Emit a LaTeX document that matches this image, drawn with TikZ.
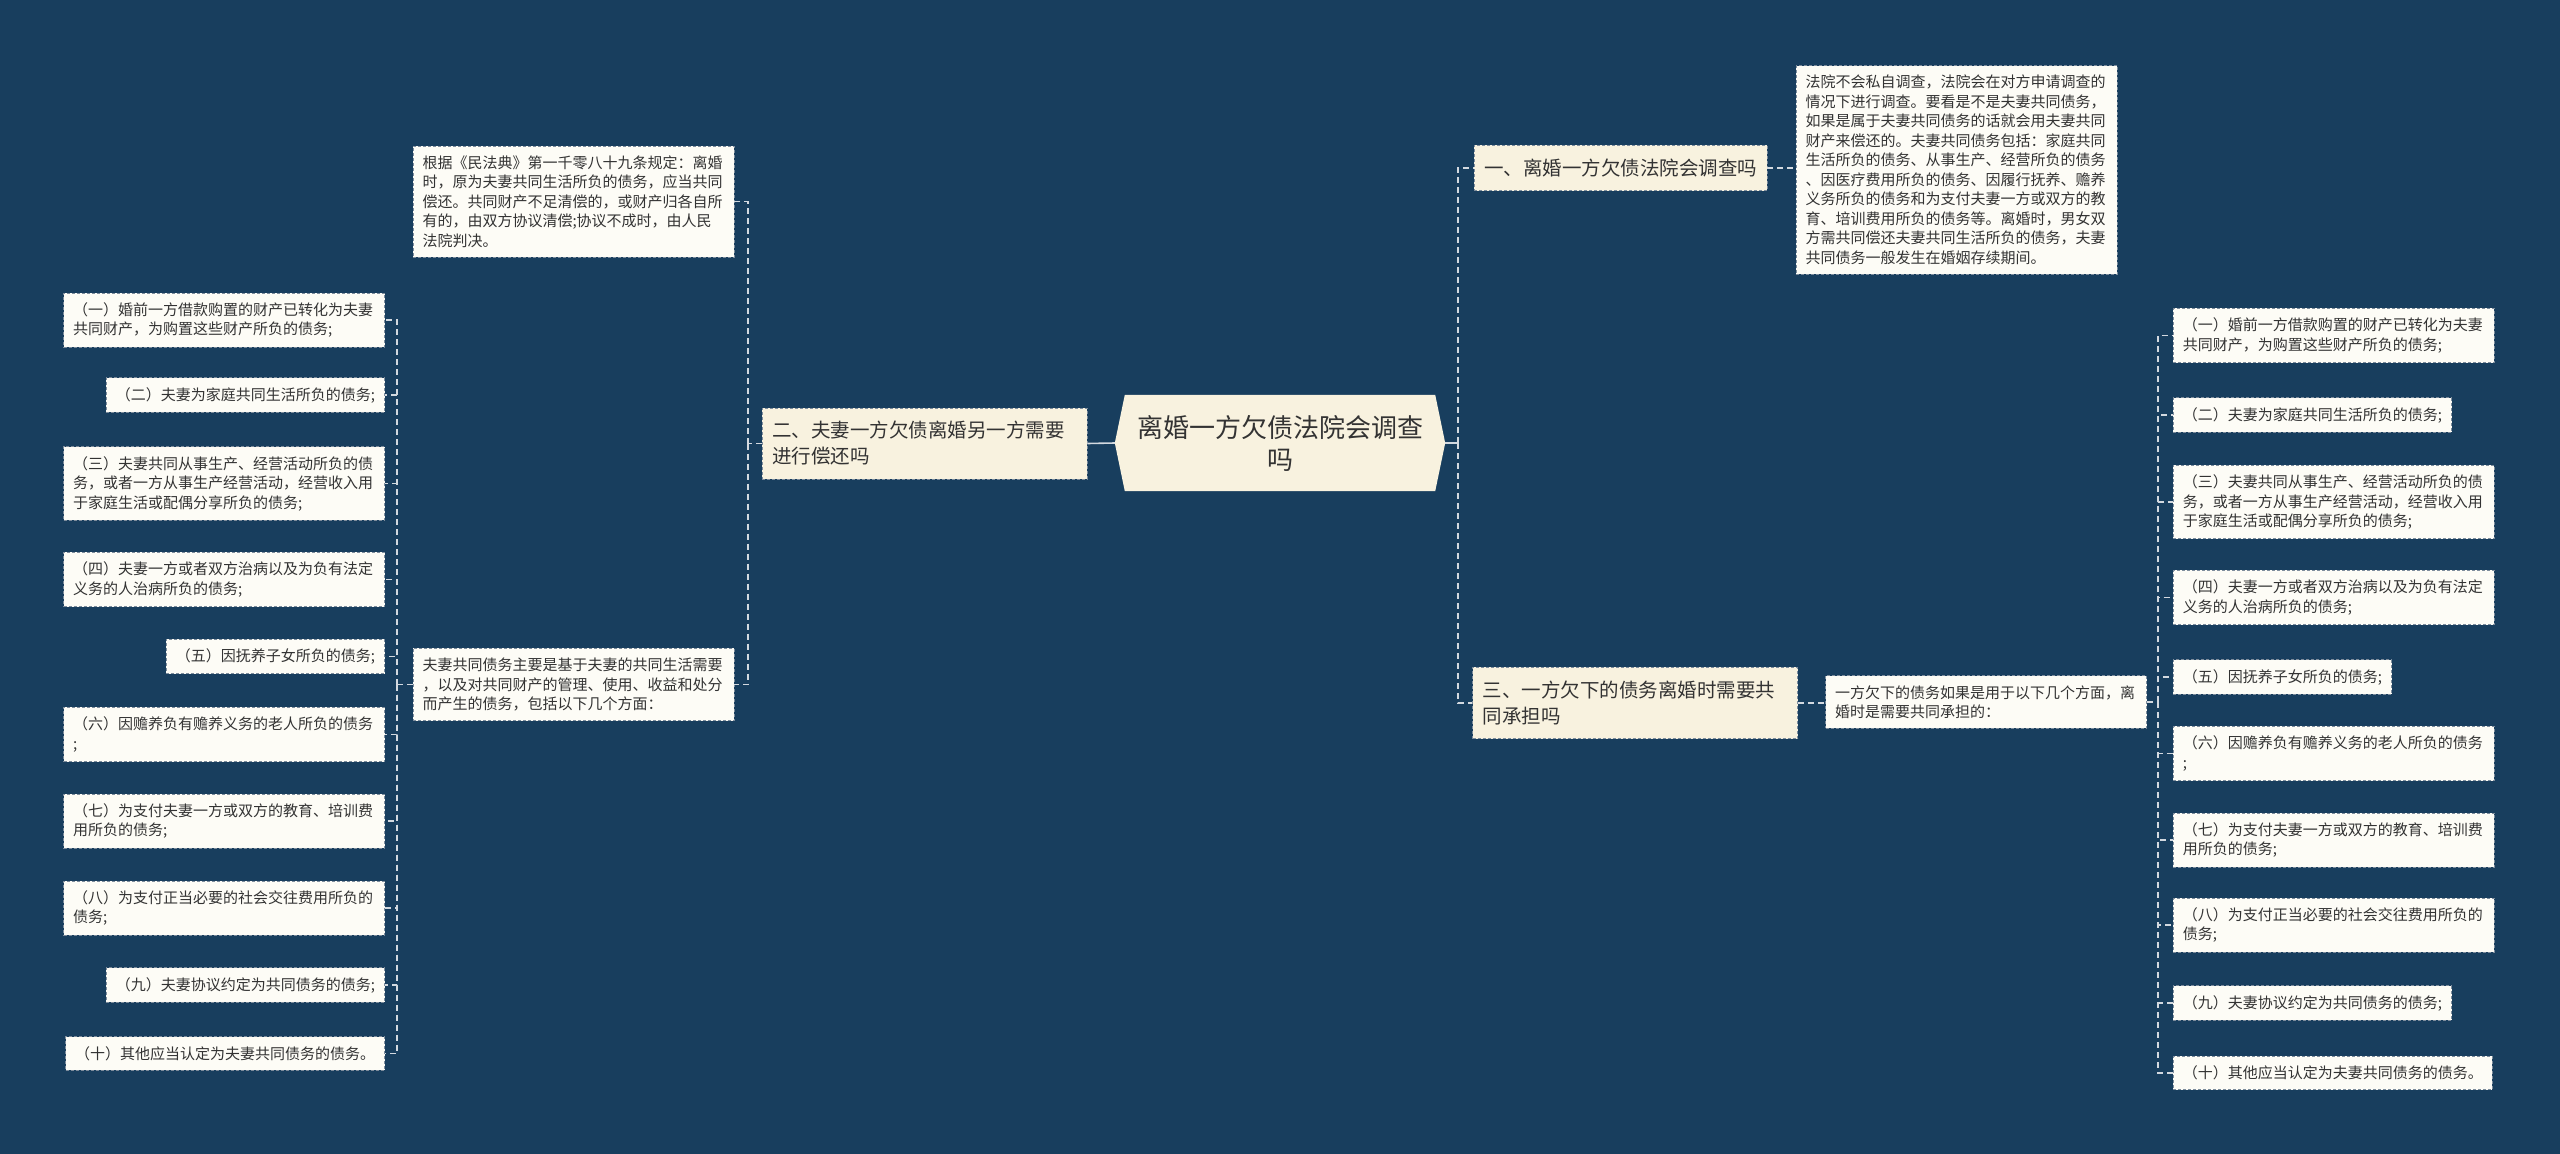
\documentclass[tikz,border=0pt]{standalone}
\usepackage{fontspec}
\setmainfont{Noto Sans CJK SC}
\definecolor{bgc}{HTML}{183E5E}
\definecolor{lvlc}{HTML}{F8F2DF}
\definecolor{leafc}{HTML}{FDFCF6}
\definecolor{bordc}{HTML}{7D8C9C}
\definecolor{txt}{HTML}{333333}
\definecolor{linec}{HTML}{D3D9E0}
\begin{document}
\begin{tikzpicture}[x=1pt,y=-1pt,
  leaf/.style={draw=bordc, dash pattern=on 3pt off 2pt, line width=0.8pt, fill=leafc, text=txt,
    font=\fontsize{15pt}{19.5pt}\selectfont, align=left, inner xsep=9.5pt, inner ysep=9.5pt},
  wide/.style={text width=302pt},
  lvl/.style={draw=bordc, dash pattern=on 3pt off 2pt, line width=0.8pt, fill=lvlc, text=txt,
    font=\fontsize{19.5pt}{26pt}\selectfont, align=left, inner xsep=10pt, inner ysep=13.5pt},
  conn/.style={draw=linec, line width=1.6pt, dash pattern=on 6pt off 4pt},
  mainconn/.style={draw=linec, line width=1.6pt},
]
\fill[bgc] (0,0) rectangle (2560,1154);
\useasboundingbox (0,0) rectangle (2560,1154);

% central node
\node[minimum width=330pt, minimum height=96pt, inner sep=0pt] (c) at (1280,443) {};
\fill[lvlc] ([xshift=10pt]c.north west) -- ([xshift=-10pt]c.north east) -- (c.east)
  -- ([xshift=-10pt]c.south east) -- ([xshift=10pt]c.south west) -- (c.west) -- cycle;
\node[text=txt, font=\fontsize{26pt}{32pt}\selectfont, align=center] (ct) at (c.center) {离婚一方欠债法院会调查\\吗};

% level 1
\node[lvl] (n1) at (1620.5,168) {一、离婚一方欠债法院会调查吗};
\node[lvl, text width=305pt] (n2) at (924.5,443.5) {二、夫妻一方欠债离婚另一方需要\\进行偿还吗};
\node[lvl, text width=305pt] (n3) at (1635,703) {三、一方欠下的债务离婚时需要共\\同承担吗};

% details
\node[leaf, wide] (d1) at (573.5,201.5) {根据《民法典》第一千零八十九条规定：离婚\\时，原为夫妻共同生活所负的债务，应当共同\\偿还。共同财产不足清偿的，或财产归各自所\\有的，由双方协议清偿;协议不成时，由人民\\法院判决。};
\node[leaf, wide] (d2) at (573.5,684.5) {夫妻共同债务主要是基于夫妻的共同生活需要\\，以及对共同财产的管理、使用、收益和处分\\而产生的债务，包括以下几个方面：};
\node[leaf, wide] (d3) at (1956.5,170) {法院不会私自调查，法院会在对方申请调查的\\情况下进行调查。要看是不是夫妻共同债务，\\如果是属于夫妻共同债务的话就会用夫妻共同\\财产来偿还的。夫妻共同债务包括：家庭共同\\生活所负的债务、从事生产、经营所负的债务\\、因医疗费用所负的债务、因履行抚养、赡养\\义务所负的债务和为支付夫妻一方或双方的教\\育、培训费用所负的债务等。离婚时，男女双\\方需共同偿还夫妻共同生活所负的债务，夫妻\\共同债务一般发生在婚姻存续期间。};
\node[leaf, wide] (d4) at (1986,702) {一方欠下的债务如果是用于以下几个方面，离\\婚时是需要共同承担的：};

% left items
\node[leaf, wide, anchor=east] (L1) at (385,320) {（一）婚前一方借款购置的财产已转化为夫妻\\共同财产，为购置这些财产所负的债务;};
\node[leaf, anchor=east] (L2) at (385,395) {（二）夫妻为家庭共同生活所负的债务;};
\node[leaf, wide, anchor=east] (L3) at (385,483.5) {（三）夫妻共同从事生产、经营活动所负的债\\务，或者一方从事生产经营活动，经营收入用\\于家庭生活或配偶分享所负的债务;};
\node[leaf, wide, anchor=east] (L4) at (385,579.5) {（四）夫妻一方或者双方治病以及为负有法定\\义务的人治病所负的债务;};
\node[leaf, anchor=east] (L5) at (385,656.5) {（五）因抚养子女所负的债务;};
\node[leaf, wide, anchor=east] (L6) at (385,734.5) {（六）因赡养负有赡养义务的老人所负的债务\\;};
\node[leaf, wide, anchor=east] (L7) at (385,821) {（七）为支付夫妻一方或双方的教育、培训费\\用所负的债务;};
\node[leaf, wide, anchor=east] (L8) at (385,908) {（八）为支付正当必要的社会交往费用所负的\\债务;};
\node[leaf, anchor=east] (L9) at (385,985) {（九）夫妻协议约定为共同债务的债务;};
\node[leaf, anchor=east] (L10) at (385,1053.5) {（十）其他应当认定为夫妻共同债务的债务。};

% right items
\node[leaf, wide, anchor=west] (R1) at (2173,335.5) {（一）婚前一方借款购置的财产已转化为夫妻\\共同财产，为购置这些财产所负的债务;};
\node[leaf, anchor=west] (R2) at (2173,415) {（二）夫妻为家庭共同生活所负的债务;};
\node[leaf, wide, anchor=west] (R3) at (2173,502) {（三）夫妻共同从事生产、经营活动所负的债\\务，或者一方从事生产经营活动，经营收入用\\于家庭生活或配偶分享所负的债务;};
\node[leaf, wide, anchor=west] (R4) at (2173,597.5) {（四）夫妻一方或者双方治病以及为负有法定\\义务的人治病所负的债务;};
\node[leaf, anchor=west] (R5) at (2173,677) {（五）因抚养子女所负的债务;};
\node[leaf, wide, anchor=west] (R6) at (2173,753.5) {（六）因赡养负有赡养义务的老人所负的债务\\;};
\node[leaf, wide, anchor=west] (R7) at (2173,840) {（七）为支付夫妻一方或双方的教育、培训费\\用所负的债务;};
\node[leaf, wide, anchor=west] (R8) at (2173,925) {（八）为支付正当必要的社会交往费用所负的\\债务;};
\node[leaf, anchor=west] (R9) at (2173,1003) {（九）夫妻协议约定为共同债务的债务;};
\node[leaf, anchor=west] (R10) at (2173,1073) {（十）其他应当认定为夫妻共同债务的债务。};

% junctions
\coordinate (jR) at (1458,443);
\coordinate (jL) at (748,443.5);
\coordinate (jL3) at (397,684.5);
\coordinate (jR3) at (2158,702);

% connectors
\draw[mainconn] (c.west) -- (n2.east);
\draw[mainconn] (c.east) -- (jR);
\draw[conn] (jR) |- (n1.west);
\draw[conn] (jR) |- (n3.west);
\draw[conn] (n2.west) -- (jL);
\draw[conn] (jL) |- (d1.east);
\draw[conn] (jL) |- (d2.east);
\draw[conn] (n1.east) -- (n1.east -| d3.west);
\draw[conn] (n3.east) -- (n3.east -| d4.west);
\draw[conn] (d2.west) -- (jL3);
\foreach \i in {1,...,10} { \draw[conn] (jL3) |- (L\i.east); }
\draw[conn] (d4.east) -- (jR3);
\foreach \i in {1,...,10} { \draw[conn] (jR3) |- (R\i.west); }
\end{tikzpicture}
\end{document}
